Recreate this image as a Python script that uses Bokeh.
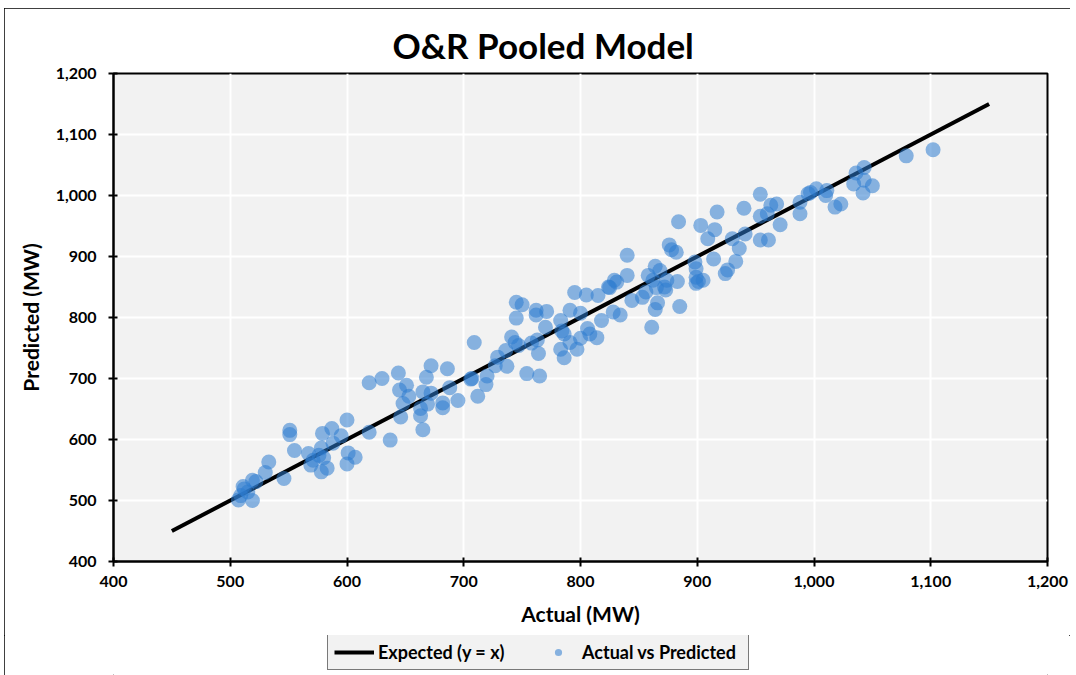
from bokeh.plotting import figure
from bokeh.layouts import column
from bokeh.models import Range1d, NumeralTickFormatter, Legend, LegendItem, FixedTicker
from bokeh.embed import file_html
from bokeh.resources import INLINE

# ---- data ----
actual = [507, 509, 519, 512, 515, 519, 511, 522, 530, 533, 546, 551, 551, 555, 567, 571, 576, 580, 569, 583,
          578, 579, 578, 587, 588, 595, 600, 601, 607, 600, 619, 637, 646, 648, 663, 665, 663, 669, 682, 682,
          695, 712, 706, 688, 672, 665, 653, 645, 651, 668, 644, 619, 630, 672, 686, 709, 707, 719, 720, 727,
          737, 729, 736, 741, 744, 747, 745, 750, 745, 762, 762, 771, 758, 763, 764, 754, 765, 770, 783, 784,
          786, 783, 786, 791, 797, 800, 806, 808, 814, 818, 791, 800, 795, 805, 815, 825, 831, 828, 834, 829,
          824, 840, 840, 844, 853, 856, 858, 862, 864, 868, 865, 873, 872, 874, 866, 864, 861, 883, 885, 899,
          901, 905, 898, 899, 876, 878, 882, 884, 903, 917, 915, 909, 930, 940, 954, 963, 968, 954, 960, 971,
          941, 954, 961, 936, 914, 933, 926, 924, 988, 988, 995, 1002, 997, 1010, 1011, 1018, 1023, 1034, 1036, 1043,
          1043, 1042, 1050, 1079, 1102, 899]
predicted = [501, 508, 500, 519, 514, 533, 523, 531, 546, 563, 536, 615, 608, 582, 577, 566, 574, 570, 558, 553,
             547, 610, 586, 618, 594, 606, 632, 578, 571, 560, 612, 599, 637, 659, 651, 616, 639, 658, 660, 652,
             664, 671, 699, 685, 676, 678, 671, 681, 689, 702, 709, 693, 700, 721, 716, 759, 700, 690, 704, 721,
             720, 735, 746, 768, 759, 754, 825, 821, 799, 812, 804, 810, 758, 763, 741, 708, 704, 784, 795, 778,
             773, 748, 734, 759, 748, 766, 782, 773, 767, 795, 812, 807, 841, 837, 836, 849, 858, 809, 804, 861,
             850, 869, 902, 828, 833, 842, 869, 861, 884, 877, 849, 845, 850, 861, 824, 813, 784, 859, 818, 866,
             859, 861, 891, 880, 919, 911, 907, 957, 951, 973, 944, 929, 929, 979, 1002, 984, 986, 966, 970, 952,
             937, 927, 927, 913, 896, 892, 878, 872, 970, 989, 1003, 1011, 1005, 1000, 1008, 981, 986, 1019, 1037, 1046,
             1025, 1004, 1016, 1065, 1075, 856]
line_x = [450, 1150]
line_y = [450, 1150]
ticks = [400, 500, 600, 700, 800, 900, 1000, 1100, 1200]
legend_labels = ["Expected (y = x)", "Actual vs Predicted"]

FONT = "Lato"
PT_COLOR = "#2e7bcf"
PT_ALPHA = 0.55

p = figure(width=1066, height=627, output_backend="svg", toolbar_location=None,
           x_range=Range1d(400, 1200), y_range=Range1d(400, 1200),
           min_border_left=109, min_border_right=23, min_border_top=65, min_border_bottom=74,
           title="O&R Pooled Model")

p.title.text_font = FONT
p.title.text_font_size = "35px"
p.title.text_font_style = "bold"
p.title.align = "left"
p.title.offset = 279
p.title.standoff = 16
p.title.text_color = "black"

p.background_fill_color = "#f2f2f2"
p.border_fill_color = "white"
p.outline_line_color = "black"
p.outline_line_width = 2

for ax in (p.xaxis[0], p.yaxis[0]):
    ax.ticker = FixedTicker(ticks=ticks)
    ax.formatter = NumeralTickFormatter(format="0,0")
    ax.axis_line_color = "black"
    ax.axis_line_width = 2
    ax.major_tick_line_color = "black"
    ax.major_tick_line_width = 2
    ax.major_tick_in = 4
    ax.major_tick_out = 5
    ax.minor_tick_line_color = None
    ax.major_label_text_font = FONT
    ax.major_label_text_font_style = "bold"
    ax.major_label_text_font_size = "16px"
    ax.major_label_text_color = "black"
    ax.axis_label_text_font = FONT
    ax.axis_label_text_font_style = "bold"
    ax.axis_label_text_font_size = "21px"
    ax.axis_label_text_color = "black"

p.xaxis.axis_label = "Actual (MW)"
p.yaxis.axis_label = "Predicted (MW)"
p.xaxis.major_label_standoff = 9
p.yaxis.major_label_standoff = 12
p.xaxis.axis_label_standoff = 11
p.yaxis.axis_label_standoff = 10

p.xgrid.grid_line_color = "white"
p.ygrid.grid_line_color = "white"
p.xgrid.grid_line_width = 2
p.ygrid.grid_line_width = 2

p.line(line_x, line_y, line_color="black", line_width=4)
p.scatter(actual, predicted, size=15, fill_color=PT_COLOR, fill_alpha=PT_ALPHA, line_color=None)

# ---- legend strip (separate figure so it can sit outside the main frame) ----
# its renderers use the same data but the ranges keep them out of view; only the legend shows
lg = figure(width=1066, height=40, output_backend="svg", toolbar_location=None,
            x_range=Range1d(0, 1), y_range=Range1d(0, 1),
            min_border_left=0, min_border_right=0, min_border_top=0, min_border_bottom=0,
            x_axis_type=None, y_axis_type=None)
lg.grid.visible = False
lg.outline_line_color = None
lg.background_fill_color = "white"
lg.border_fill_color = "white"
lr_line = lg.line(line_x, line_y, line_color="black", line_width=4)
lr_pts = lg.scatter(actual, predicted, size=15, fill_color=PT_COLOR, fill_alpha=PT_ALPHA, line_color=None)

legend = Legend(items=[LegendItem(label=legend_labels[0], renderers=[lr_line]),
                       LegendItem(label=legend_labels[1], renderers=[lr_pts])],
                orientation="horizontal", location=(214, 5))
legend.label_text_font = FONT
legend.label_text_font_style = "bold"
legend.label_text_font_size = "18px"
legend.label_text_color = "black"
legend.border_line_color = "black"
legend.border_line_width = 1.5
legend.background_fill_color = "#f2f2f2"
legend.background_fill_alpha = 1
legend.spacing = 0
legend.padding = 6
legend.margin = 0
legend.glyph_width = 40
legend.glyph_height = 18
legend.label_width = 160
legend.label_standoff = 4
lg.add_layout(legend, "center")

layout = column(p, lg, spacing=0)
layout.styles = {"outline": "1.5px solid black", "outline-offset": "-1px",
                 "margin-left": "4px", "margin-top": "8px"}

open("out.html", "w").write(file_html(layout, INLINE))
